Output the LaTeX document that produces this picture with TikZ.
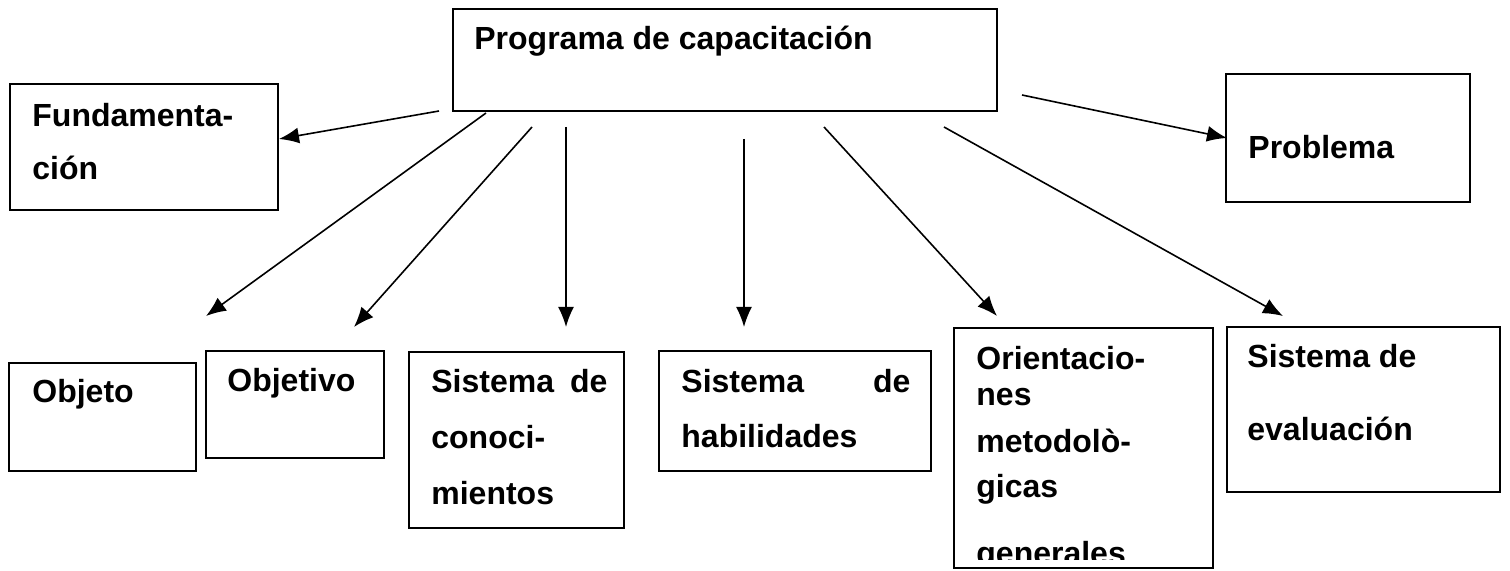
\documentclass[tikz,border=0pt]{standalone}
\usepackage{fontspec}
\setmainfont{Liberation Sans}
\usetikzlibrary{arrows.meta,fit}

\begin{document}
\begin{tikzpicture}[x=0.5pt,y=-0.5pt,
  caja/.style={draw, line width=1pt, inner sep=0pt},
  txt/.style={anchor=base west, inner sep=0pt, align=left, font=\fontsize{16}{28}\selectfont\bfseries},
  flecha/.style={-{Latex[length=10pt,width=8pt]}, line width=0.8pt}]
\useasboundingbox (0,0) rectangle (1510,571);

% cajas
\node[caja, fit={(453,9) (997,111)}] (prog) {};
\node[caja, fit={(10,84) (278,210)}] (fund) {};
\node[caja, fit={(1226,74) (1470,202)}] (probl) {};
\node[caja, fit={(9,363) (196,471)}] (objeto) {};
\node[caja, fit={(206,351) (384,458)}] (objetivo) {};
\node[caja, fit={(409,352) (624,528)}] (conoc) {};
\node[caja, fit={(659,351) (931,471)}] (habil) {};
\node[caja, fit={(954,328) (1213,568)}] (orient) {};
\node[caja, fit={(1227,327) (1500,492)}] (eval) {};

% textos (anclados en la ultima linea)
\node[txt] (prog-t) at (474,50) {Programa de capacitación};
\node[txt, font=\fontsize{16}{26.5}\selectfont\bfseries] (fund-t) at (32,180) {Fundamenta-\\ción};
\node[txt] (probl-t) at (1248,159) {Problema};
\node[txt] (objeto-t) at (32,403) {Objeto};
\node[txt] (objetivo-t) at (227,392) {Objetivo};
\node[txt] (conoc-t) at (431,504) {\makebox[88pt][s]{Sistema de}\\conoci-\\mientos};
\node[txt] (habil-t) at (681,448) {\makebox[114.5pt][s]{Sistema\hfill de}\\habilidades};
\begin{scope}
  \clip (954,328) rectangle (1213,559);
  \node[txt, font=\fontsize{16}{17.5}\selectfont\bfseries] (orient-t) at (976,564)
    {Orientacio-\\nes\\[6pt]metodolò-\\[5pt]gicas\\[16pt]generales};
\end{scope}
\node[txt, font=\fontsize{16}{36.5}\selectfont\bfseries] (eval-t) at (1247,441) {Sistema de\\evaluación};

% puntas de las flechas
\coordinate (f0) at (439,111);   \coordinate (f1) at (279,139);
\coordinate (p0) at (1022,95);   \coordinate (p1) at (1227,138);
\coordinate (a0) at (486,113);   \coordinate (a1) at (206,316);
\coordinate (b0) at (532,127);   \coordinate (b1) at (354,327);
\coordinate (c0) at (566,127);   \coordinate (c1) at (566,327);
\coordinate (d0) at (744,139);   \coordinate (d1) at (744,327);
\coordinate (e0) at (824,127);   \coordinate (e1) at (997,316);
\coordinate (g0) at (944,127);   \coordinate (g1) at (1283,316);

% flechas
\draw[flecha] (f0) -- (f1);
\draw[flecha] (p0) -- (p1);
\draw[flecha] (a0) -- (a1);
\draw[flecha] (b0) -- (b1);
\draw[flecha] (c0) -- (c1);
\draw[flecha] (d0) -- (d1);
\draw[flecha] (e0) -- (e1);
\draw[flecha] (g0) -- (g1);
\end{tikzpicture}
\end{document}
